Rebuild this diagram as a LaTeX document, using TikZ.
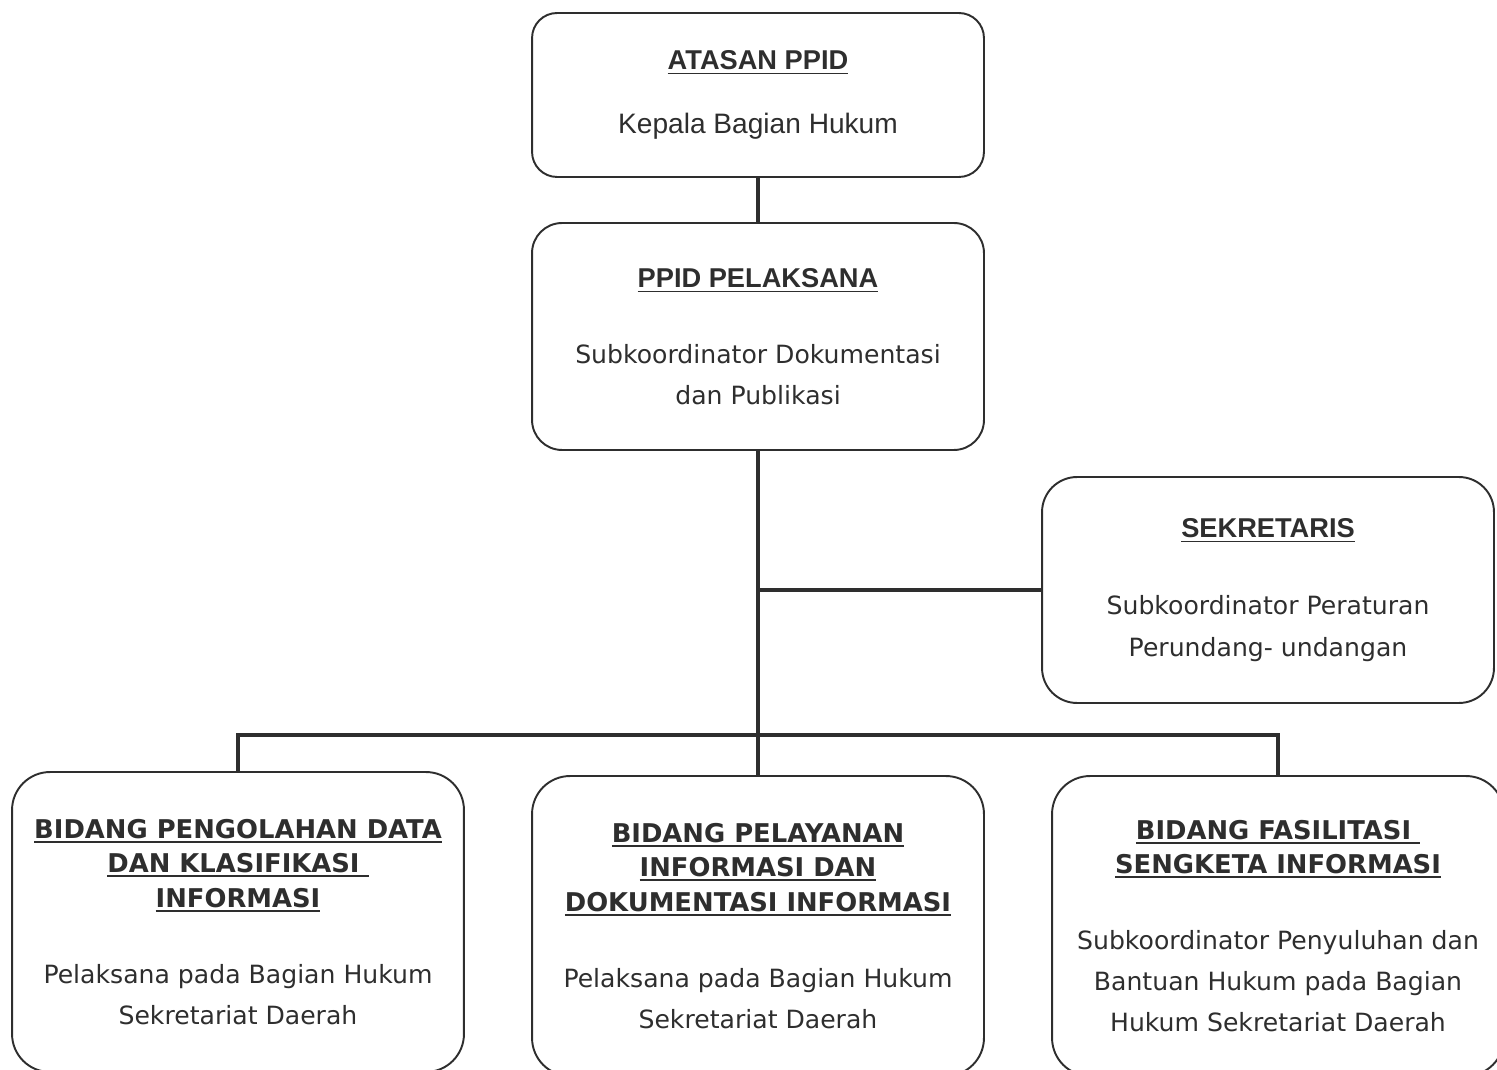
\documentclass[tikz,border=0pt]{standalone}
\usepackage{fontspec}
\setmainfont{DejaVu Sans}
\newfontfamily\arialf{Liberation Sans}
\usetikzlibrary{positioning}
\definecolor{tinta}{HTML}{2E2E2E}
% underline with own thickness
\newcommand\garis[2][1.1pt]{\setbox0\hbox{#2}\rlap{\rule[-2.5pt]{\wd0}{#1}}\box0}
\newcommand\judul[1]{{\bfseries\fontsize{14.7pt}{18pt}\selectfont\garis{#1}}}
\newcommand\judulA[1]{{\arialf\bfseries\fontsize{15.5pt}{18pt}\selectfont\garis[0.7pt]{#1}}}

\begin{document}
\begin{tikzpicture}[x=0.02cm,y=-0.02cm]

        % Define style
        \tikzstyle{kotak} = [rectangle, draw=tinta, line width=1.1pt, text=tinta, align=center, minimum width=9.04cm, font=\fontsize{14.3pt}{23.3pt}\selectfont]
        \tikzstyle{garisan} = [draw=tinta, line width=1.8pt]

        \useasboundingbox (0,0) rectangle (1497,1070);
        \clip (0,0) rectangle (1497,1070);

        % Blocks (top to bottom)
        \node[kotak, rounded corners=0.5cm, minimum height=3.28cm] (atasan) at (758,95) {\judulA{ATASAN PPID}\\[13.1pt]{\arialf\fontsize{16pt}{18pt}\selectfont Kepala Bagian Hukum}};
        \node[kotak, rounded corners=0.6cm, minimum height=4.54cm] (pelaksana) at (758,336.5) {\judulA{PPID PELAKSANA}\\[19.9pt]Subkoordinator Dokumentasi\\dan Publikasi};
        \node[kotak, rounded corners=0.7cm, minimum height=4.52cm] (sekretaris) at (1268,590) {\judulA{SEKRETARIS}\\[20.5pt]Subkoordinator Peraturan\\[0.6pt]Perundang- undangan};

        % Bidang (bottom row)
        \node[kotak, rounded corners=0.76cm, minimum height=6cm] (kiri) at (238,922) {\judul{BIDANG PENGOLAHAN DATA}\\[-3.7pt]\judul{DAN KLASIFIKASI\ }\\[-3.7pt]\judul{INFORMASI}\\[20pt]Pelaksana pada Bagian Hukum\\Sekretariat Daerah};
        \node[kotak, rounded corners=0.76cm, minimum height=6cm] (tengah) at (758,926) {\judul{BIDANG PELAYANAN}\\[-3.7pt]\judul{INFORMASI DAN}\\[-3.7pt]\judul{DOKUMENTASI INFORMASI}\\[20pt]Pelaksana pada Bagian Hukum\\Sekretariat Daerah};
        \node[kotak, rounded corners=0.76cm, minimum height=6cm] (kanan) at (1278,926) {\judul{BIDANG FASILITASI\ }\\[-3.7pt]\judul{SENGKETA INFORMASI}\\[20pt]Subkoordinator Penyuluhan dan\\Bantuan Hukum pada Bagian\\Hukum Sekretariat Daerah};

        % Connectors
        \coordinate (cabang) at (pelaksana.south |- sekretaris.west);
        \coordinate (bus) at (758,735);
        \draw[garisan] (atasan) -- (pelaksana);
        \draw[garisan] (pelaksana.south) -- (tengah.north);
        \draw[garisan] (cabang) -- (sekretaris.west);
        \draw[garisan] (kiri.north) |- (bus) -| (kanan.north);

    \end{tikzpicture}
\end{document}
